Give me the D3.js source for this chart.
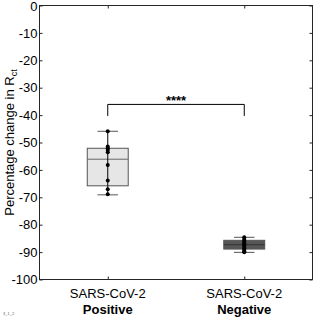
<!DOCTYPE html>
<html><head><meta charset="utf-8">
<script src="https://cdn.jsdelivr.net/npm/d3@7"></script>
<style>body{margin:0;background:#fff}svg{display:block}</style>
</head><body>
<svg id="c" width="316" height="319"></svg>
<script>
const categories = ["SARS-CoV-2|Positive", "SARS-CoV-2|Negative"];
const whiskerHigh = [-45.9, -84.6];
const q3 = [-52.1, -85.7];
const medians = [-56.1, -87.3];
const q1 = [-65.8, -88.9];
const whiskerLow = [-69.1, -90.1];
const pointsPositive = [-45.9, -51.5, -52.1, -52.7, -53.6, -58.2, -63.9, -67.1, -68.9];
const pointsNegative = [-84.6, -85.2, -85.8, -86.3, -86.8, -87.2, -87.6, -88.1, -88.6, -89.2, -89.7, -90.1];
const yTicks = [0, -10, -20, -30, -40, -50, -60, -70, -80, -90, -100];
const bracket = {from: 0, to: 1, top: -36.1, low: -40.3, label: "****"};
const boxFills = ["#e6e6e6", "#575757"];

const svg = d3.select("#c");
const L = 39.5, R = 312.5, T = 5.5, B = 279.5;
const x = d3.scaleLinear().domain([0.5, 2.5]).range([L, R]);
const y = d3.scaleLinear().domain([-100, 0]).range([B, T]);
const ax = "#262626";
const FF = "Liberation Sans, Arial, sans-serif";

// frame
svg.append("rect").attr("x", L).attr("y", T).attr("width", R - L).attr("height", B - T)
  .attr("fill", "none").attr("stroke", ax).attr("stroke-width", 1);

// left axis
const yAxis = d3.axisLeft(y).tickValues(yTicks).tickSize(-3).tickPadding(5).tickFormat(d => String(d));
const gy = svg.append("g").attr("transform", `translate(${L},0)`).call(yAxis);
gy.select(".domain").remove();
gy.selectAll("line").attr("stroke", ax);
gy.selectAll("text").attr("font-family", FF).attr("font-size", 13).attr("fill", "#000").attr("x", -2)
  .attr("dy", d => d === 0 ? "0.4em" : "0.32em");
// right mirror ticks
const gr = svg.append("g").attr("transform", `translate(${R},0)`).call(d3.axisRight(y).tickValues(yTicks).tickSize(-3).tickFormat(""));
gr.select(".domain").remove();
gr.selectAll("line").attr("stroke", ax);
// bottom & top ticks
const xt = [1, 2];
const gb = svg.append("g").attr("transform", `translate(0,${B})`).call(d3.axisBottom(x).tickValues(xt).tickSize(-3).tickFormat(""));
gb.select(".domain").remove(); gb.selectAll("line").attr("stroke", ax);
const gt = svg.append("g").attr("transform", `translate(0,${T})`).call(d3.axisTop(x).tickValues(xt).tickSize(-3).tickFormat(""));
gt.select(".domain").remove(); gt.selectAll("line").attr("stroke", ax);

// x labels
categories.forEach((c, i) => {
  const [a, b] = c.split("|");
  svg.append("text").attr("x", x(i + 1)).attr("y", 298).attr("text-anchor", "middle")
    .attr("font-family", FF).attr("font-size", 13).text(a);
  svg.append("text").attr("x", x(i + 1)).attr("y", 314).attr("text-anchor", "middle")
    .attr("font-family", FF).attr("font-size", 13).attr("font-weight", "bold").text(b);
});

// y label
const yl = svg.append("text").attr("transform", `translate(14,${(T + B) / 2}) rotate(-90)`)
  .attr("text-anchor", "middle").attr("font-family", FF).attr("font-size", 13);
yl.append("tspan").text("Percentage change in R");
yl.append("tspan").attr("font-size", 9).attr("dy", 3).text("ct");

// boxes
const bw = x(1.15) - x(1);
const pts = [pointsPositive, pointsNegative];
categories.forEach((c, i) => {
  const cx = x(i + 1);
  const g = svg.append("g");
  g.append("line").attr("x1", cx - bw / 2).attr("x2", cx + bw / 2).attr("y1", y(whiskerHigh[i])).attr("y2", y(whiskerHigh[i])).attr("stroke", "#555");
  g.append("line").attr("x1", cx - bw / 2).attr("x2", cx + bw / 2).attr("y1", y(whiskerLow[i])).attr("y2", y(whiskerLow[i])).attr("stroke", "#555");
  g.append("rect").attr("x", cx - bw).attr("width", 2 * bw).attr("y", y(q3[i])).attr("height", y(q1[i]) - y(q3[i]))
    .attr("fill", boxFills[i]).attr("stroke", "#555");
  g.append("line").attr("x1", cx - bw).attr("x2", cx + bw).attr("y1", y(medians[i])).attr("y2", y(medians[i]))
    .attr("stroke", i === 0 ? "#666" : "#333");
  g.append("line").attr("x1", cx).attr("x2", cx).attr("y1", y(whiskerHigh[i])).attr("y2", y(whiskerLow[i])).attr("stroke", "#000");
  g.selectAll("circle").data(pts[i]).join("circle").attr("cx", cx).attr("cy", d => y(d)).attr("r", 2).attr("fill", "#000");
});

// significance bracket
const bx1 = x(bracket.from + 1), bx2 = x(bracket.to + 1);
svg.append("path").attr("d", `M${bx1},${y(bracket.low)}V${y(bracket.top)}H${bx2}V${y(bracket.low)}`)
  .attr("fill", "none").attr("stroke", "#000").attr("stroke-width", 1);
svg.append("text").attr("x", (bx1 + bx2) / 2).attr("y", y(bracket.top) + 0.5).attr("text-anchor", "middle")
  .attr("font-family", FF).attr("font-size", 13).attr("font-weight", "bold").text(bracket.label);

// tiny id
svg.append("text").attr("x", 3).attr("y", 315).attr("font-family", FF).attr("font-size", 4).attr("fill", "#666").text("3_1_2");
</script>
</body></html>
